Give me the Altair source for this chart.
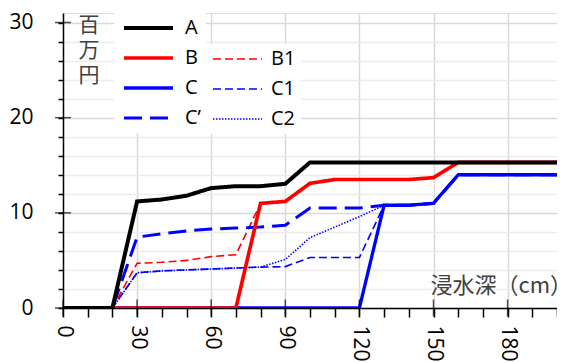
import altair as alt
import pandas as pd

# ---- data ----
depth = [0, 10, 20, 30, 40, 50, 60, 70, 80, 90, 100, 110, 120, 130, 140, 150, 160, 170, 180, 190, 200]
A  = [0, 0, 0, 11.2, 11.4, 11.8, 12.6, 12.8, 12.8, 13.05, 15.3, 15.3, 15.3, 15.3, 15.3, 15.3, 15.3, 15.3, 15.3, 15.3, 15.3]
B  = [0, 0, 0, 0, 0, 0, 0, 0, 11.0, 11.2, 13.1, 13.5, 13.5, 13.5, 13.5, 13.7, 15.3, 15.3, 15.3, 15.3, 15.3]
C  = [0, 0, 0, 0, 0, 0, 0, 0, 0, 0, 0, 0, 0, 10.8, 10.8, 11.0, 14.0, 14.0, 14.0, 14.0, 14.0]
Cp = [0, 0, 0, 7.45, 7.8, 8.1, 8.3, 8.4, 8.5, 8.7, 10.5, 10.5, 10.5, 10.8, 10.8, 11.0, 14.0, 14.0, 14.0, 14.0, 14.0]
B1 = [0, 0, 0, 4.7, 4.8, 5.0, 5.4, 5.6, 11.0, 11.2, 13.1, 13.5, 13.5, 13.5, 13.5, 13.7, 15.3, 15.3, 15.3, 15.3, 15.3]
C1 = [0, 0, 0, 3.7, 3.9, 4.0, 4.1, 4.2, 4.3, 4.35, 5.3, 5.3, 5.3, 10.8, 10.8, 11.0, 14.0, 14.0, 14.0, 14.0, 14.0]
C2 = [0, 0, 0, 3.7, 3.9, 4.0, 4.1, 4.2, 4.3, 5.1, 7.4, 8.5, 9.6, 10.8, 10.8, 11.0, 14.0, 14.0, 14.0, 14.0, 14.0]

main_names = ["A", "B", "C", "C’"]
main_colors = ["#000000", "#ff0000", "#0000ff", "#0000ff"]
sub_names = ["B1", "C1", "C2"]
sub_colors = ["#ff0000", "#0000ff", "#0000ff"]

x_ticks = list(range(0, 201, 10))
x_major = [0, 30, 60, 90, 120, 150, 180]
y_ticks = list(range(0, 31, 2))
y_major = [0, 10, 20, 30]

# draw order: later rows on top
main_df = pd.concat([
    pd.DataFrame({"x": depth, "y": Cp, "series": "C’"}),
    pd.DataFrame({"x": depth, "y": C, "series": "C"}),
    pd.DataFrame({"x": depth, "y": B, "series": "B"}),
    pd.DataFrame({"x": depth, "y": A, "series": "A"}),
])
sub_df = pd.concat([
    pd.DataFrame({"x": depth, "y": C2, "series": "C2"}),
    pd.DataFrame({"x": depth, "y": C1, "series": "C1"}),
    pd.DataFrame({"x": depth, "y": B1, "series": "B1"}),
])

NUM_FONT = "Open Sans"
JP_FONT = "Noto Sans CJK JP"

axis_x = alt.Axis(
    values=x_ticks,
    labelExpr="datum.value % 30 == 0 ? datum.label : ''",
    labelAngle=90, labelFont=NUM_FONT, labelFontSize=21, labelColor="#000000",
    labelPadding=8, labelOverlap=False, labelFlush=False, labelBound=False,
    tickSize=9, tickWidth=1.5, tickColor="#000000",
    domainColor="#000000", domainWidth=1.5,
    grid=True, gridColor="#d9d9d9", gridWidth=1.5,
    gridOpacity={"condition": {"test": "datum.value % 30 == 0 && datum.value > 0", "value": 1}, "value": 0},
    title="浸水深（cm）", titleFont=JP_FONT, titleFontSize=22, titleFontWeight="normal",
    titleColor="#404040", titleX=367, titleY=-23, titleAlign="left", titleBaseline="middle",
)
axis_y = alt.Axis(
    values=y_ticks,
    labelExpr="datum.value % 10 == 0 ? datum.label : ''",
    labelFont=NUM_FONT, labelFontSize=21, labelColor="#000000",
    labelPadding=25, labelOverlap=False, labelFlush=False, labelBound=False,
    tickSize=5, tickWidth=1.5, tickColor="#000000",
    domainColor="#000000", domainWidth=1.5,
    grid=True, gridWidth=1.5,
    gridColor={"condition": {"test": "datum.value % 10 == 0", "value": "#d9d9d9"}, "value": "#ececec"},
    title=["百", "万", "円"], titleFont=JP_FONT, titleFontSize=21, titleFontWeight="normal",
    titleColor="#404040", titleAngle=0, titleX=15, titleY=1, titleAlign="left",
    titleBaseline="top", titleLineHeight=25,
)

def X():
    return alt.X("x:Q", scale=alt.Scale(domain=[0, 200], nice=False, zero=False), axis=axis_x)

def Y():
    return alt.Y("y:Q", scale=alt.Scale(domain=[0, 31], nice=False), axis=axis_y)

def make_legend(lx, ly, loff):
    return alt.Legend(
        orient="none", legendX=lx, legendY=ly, title=None, direction="vertical",
        fillColor="white", padding=5, clipHeight=20, rowPadding=10,
        symbolType="stroke", symbolSize=2401, symbolOffset=3,
        labelFont=NUM_FONT, labelFontSize=20, labelColor="#000000", labelOffset=loff,
    )

leg_main = make_legend(51, 0, 10)
leg_sub = make_legend(141, 31, 8)

main_layer = alt.Chart(main_df).mark_line(clip=True).encode(
    x=X(), y=Y(),
    color=alt.Color("series:N", scale=alt.Scale(domain=main_names, range=main_colors), legend=leg_main),
    strokeDash=alt.StrokeDash("series:N", scale=alt.Scale(domain=main_names, range=[[1, 0], [1, 0], [1, 0], [18, 8]]), legend=leg_main),
    strokeWidth=alt.StrokeWidth("series:N", scale=alt.Scale(domain=main_names, range=[4, 3, 3, 3]), legend=leg_main),
)

sub_layer = alt.Chart(sub_df).mark_line(clip=True).encode(
    x=X(), y=Y(),
    color=alt.Color("series:N", scale=alt.Scale(domain=sub_names, range=sub_colors), legend=leg_sub),
    strokeDash=alt.StrokeDash("series:N", scale=alt.Scale(domain=sub_names, range=[[8, 4], [8, 4], [1.5, 1.5]]), legend=leg_sub),
    strokeWidth=alt.StrokeWidth("series:N", scale=alt.Scale(domain=sub_names, range=[1.6, 1.6, 1.6]), legend=leg_sub),
)

xtick_layer = alt.Chart(pd.DataFrame({"x": x_major, "y": [0] * len(x_major)})).mark_tick(
    orient="vertical", size=17, thickness=1.5, color="#000000"
).encode(x=X(), y=Y())

ytick_layer = alt.Chart(pd.DataFrame({"x": [0] * len(y_major), "y": y_major})).mark_tick(
    orient="horizontal", size=16, thickness=1.5, color="#000000"
).encode(x=X(), y=Y())

chart = alt.layer(sub_layer, main_layer, xtick_layer, ytick_layer).resolve_scale(
    color="independent", strokeDash="independent", strokeWidth="independent"
).properties(
    width=494, height=295,
    autosize=alt.AutoSizeParams(type="none"),
    padding={"left": 55, "top": 5, "right": 0, "bottom": 54},
).configure_view(stroke=None).configure(background="white")

chart.save("out.html", embed_options={"renderer": "svg", "actions": False})
